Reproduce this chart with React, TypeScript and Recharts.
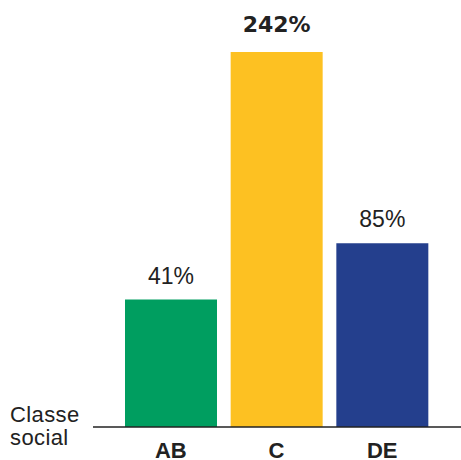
import { Bar, BarChart, Cell, LabelList, XAxis, YAxis } from "recharts";

// classes sociais
const categories = ["AB", "C", "DE"];
// texto mostrado sobre cada barra
const growthLabels = ["41%", "242%", "85%"];
// altura relativa de cada barra (o gráfico original não está em escala)
const barHeights = [34, 100, 49];

const colors = ["#009E60", "#FDC122", "#243F8D"];
const FONT = "'Liberation Sans', Arial, Helvetica, sans-serif";

const data = categories.map((name, i) => ({
  name,
  height: barHeights[i],
  label: growthLabels[i],
}));

function TopLabel(props: any) {
  const { x, y, width, value, index } = props;
  const bold = index === 1;
  return (
    <text
      x={x + width / 2}
      y={y - (bold ? 20 : 16)}
      textAnchor="middle"
      fill="#222"
      fontFamily={bold ? "'DejaVu Sans', sans-serif" : FONT}
      fontWeight={bold ? 700 : 400}
      fontSize={bold ? 22 : 23}
    >
      {value}
    </text>
  );
}

export default function App() {
  return (
    <div
      style={{
        position: "absolute",
        left: 0,
        top: 0,
        width: 461,
        height: 460,
        background: "#fff",
      }}
    >
      <BarChart
        width={461}
        height={460}
        data={data}
        margin={{ top: 52, right: 0, left: 93, bottom: 0 }}
      >
        <XAxis
          dataKey="name"
          height={33}
          padding={{ left: 25, right: 26 }}
          tickLine={false}
          tickMargin={9}
          axisLine={{ stroke: "#222", strokeWidth: 1.5 }}
          tick={{ fill: "#222", fontSize: 22, fontWeight: 700, fontFamily: FONT }}
        />
        <YAxis hide domain={[0, 100]} />
        <Bar dataKey="height" barSize={92} isAnimationActive={false}>
          {data.map((d, i) => (
            <Cell key={d.name} fill={colors[i]} />
          ))}
          <LabelList dataKey="label" content={<TopLabel />} />
        </Bar>
      </BarChart>
      <svg
        width={100}
        height={60}
        style={{ position: "absolute", left: 0, top: 400 }}
      >
        <text x={10} y={21.7} fill="#222" fontSize={22} letterSpacing={0.4} fontFamily={FONT}>
          Classe
        </text>
        <text x={10} y={45} fill="#222" fontSize={22} letterSpacing={0.4} fontFamily={FONT}>
          social
        </text>
      </svg>
    </div>
  );
}
